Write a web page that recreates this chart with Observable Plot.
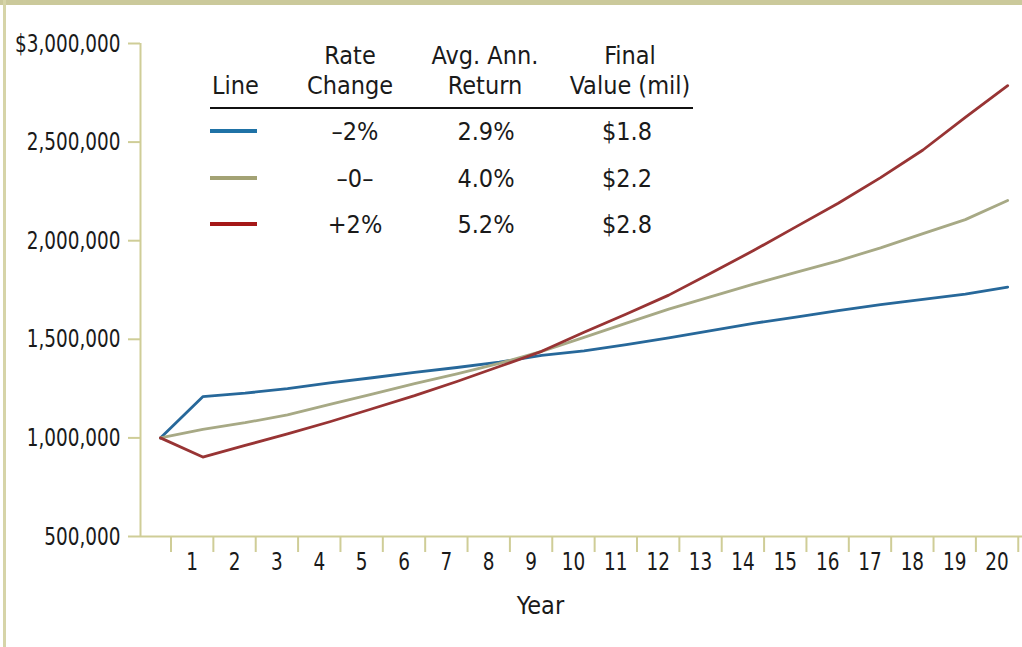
<!DOCTYPE html>
<html>
<head>
<meta charset="utf-8">
<script src="https://cdn.jsdelivr.net/npm/d3@7"></script>
<script src="https://cdn.jsdelivr.net/npm/@observablehq/plot@0.6"></script>
<style>
  html, body { margin: 0; padding: 0; background: #ffffff; }
  #wrap { position: relative; width: 1022px; height: 647px; overflow: hidden; background: #ffffff;
          font-family: "Liberation Sans Narrow", "Arial Narrow", "DejaVu Sans Condensed", sans-serif; color: #1a1a1a; }
  #topbar { position: absolute; left: 0; top: 0; width: 1022px; height: 5px; background: #cbc99b; }
  #leftbar { position: absolute; left: 3px; top: 0; width: 3px; height: 647px; background: #d6d4a8; }
  #chart { position: absolute; left: 0; top: 0; }
  .cell { position: absolute; font-size: 25px; line-height: 25px; white-space: nowrap; text-align: center; width: 160px; }
  .sw { position: absolute; height: 4px; width: 47px; left: 210px; }
  #rule { position: absolute; left: 210px; top: 107px; width: 483px; height: 2px; background: #111; }
</style>
</head>
<body>
<div id="wrap">
  <div id="chart"></div>
  <div id="topbar"></div>
  <div id="leftbar"></div>
  <div id="legend"></div>
</div>
<script>
// ---- data ----
const years = [0, 1, 2, 3, 4, 5, 6, 7, 8, 9, 10, 11, 12, 13, 14, 15, 16, 17, 18, 19, 20];
const seriesNames = ["-2%", "0", "+2%"];
const valuesMinus2 = [1000000, 1209000, 1227000, 1250000, 1279000, 1305000, 1332000, 1357000, 1384000, 1418000, 1441000,
                      1473000, 1507000, 1544000, 1581000, 1613000, 1646000, 1676000, 1702000, 1729000, 1765000];
const valuesZero   = [1000000, 1043000, 1077000, 1117000, 1170000, 1222000, 1275000, 1325000, 1378000, 1439000, 1510000,
                      1582000, 1653000, 1716000, 1780000, 1839000, 1898000, 1964000, 2036000, 2107000, 2204000];
const valuesPlus2  = [1000000, 903000, 962000, 1020000, 1082000, 1148000, 1214000, 1286000, 1362000, 1439000, 1536000,
                      1628000, 1724000, 1836000, 1950000, 2070000, 2190000, 2320000, 2460000, 2625000, 2786000];
const yTicks = [500000, 1000000, 1500000, 2000000, 2500000, 3000000];
const xLabels = [1, 2, 3, 4, 5, 6, 7, 8, 9, 10, 11, 12, 13, 14, 15, 16, 17, 18, 19, 20];
const xTitle = "Year";

// legend table
const legendHeader1 = ["", "Rate", "Avg. Ann.", "Final"];
const legendHeader2 = ["Line", "Change", "Return", "Value (mil)"];
const legendRate    = ["\u20132%", "\u20130\u2013", "+2%"];
const legendReturn  = ["2.9%", "4.0%", "5.2%"];
const legendFinal   = ["$1.8", "$2.2", "$2.8"];

// ---- styles ----
const lineColors   = ["#27689a", "#a7a985", "#983434"];
const swatchColors = ["#1f72a6", "#a3a274", "#a51818"];
const axisColor = "#cfcd97";
const textColor = "#1a1a1a";
const fontFamily = '"Liberation Sans Narrow", "Arial Narrow", "DejaVu Sans Condensed", sans-serif';
const xDomain = [-0.47, 20.35];
const yDomain = [500000, 3000000];
const axisTextSqueeze = 0.82;

const table = [];
[valuesMinus2, valuesZero, valuesPlus2].forEach((vals, i) => {
  vals.forEach((v, j) => table.push({series: seriesNames[i], year: years[j], value: v}));
});

const fmt = d3.format(",");
const chart = Plot.plot({
  width: 1022,
  height: 647,
  marginLeft: 140,
  marginRight: 0,
  marginTop: 43,
  marginBottom: 111,
  x: {domain: xDomain},
  y: {domain: yDomain},
  color: {domain: seriesNames, range: lineColors},
  style: {fontFamily, fontSize: "25px", color: textColor, background: "transparent", overflow: "visible"},
  marks: [
    Plot.ruleX([xDomain[0]], {stroke: axisColor, strokeWidth: 2}),
    Plot.ruleY([yDomain[0]], {stroke: axisColor, strokeWidth: 2}),
    Plot.axisY({ticks: yTicks, tickSize: 12, tickPadding: 8, strokeWidth: 2, stroke: axisColor, fill: textColor,
                tickFormat: d => (d === 3000000 ? "$" : "") + fmt(d), label: null, fontSize: 25}),
    Plot.axisX({ticks: years.map(y => y + 0.25), tickSize: 16, strokeWidth: 2, stroke: axisColor,
                tickFormat: () => "", label: null}),
    Plot.axisX({ticks: xLabels.map(y => y - 0.25), tickSize: 0, tickPadding: 16, fill: textColor,
                tickFormat: d => String(Math.round(d + 0.25)), label: null, fontSize: 25}),
    Plot.line(table, {x: "year", y: "value", z: "series", stroke: "series", strokeWidth: 2.8,
                      strokeLinejoin: "round", strokeLinecap: "round"}),
    Plot.text([xTitle], {frameAnchor: "bottom", dx: -41, dy: 77, fontSize: 25, fill: textColor})
  ]
});
document.getElementById("chart").appendChild(chart);

// condense the axis tick labels horizontally (the original uses a condensed face)
chart.querySelectorAll('g[aria-label="y-axis tick label"] text, g[aria-label="x-axis tick label"] text').forEach(t => {
  const tr = t.getAttribute("transform");
  if (tr) t.setAttribute("transform", tr + ` scale(${axisTextSqueeze},1)`);
  else {
    const x = +t.getAttribute("x") || 0;
    t.setAttribute("transform", `translate(${x},0) scale(${axisTextSqueeze},1) translate(${-x},0)`);
  }
});

// ---- legend table (HTML overlay) ----
const legend = document.getElementById("legend");
const colCenters = [233, 350, 485, 630];
function cell(text, cx, cy, align) {
  const d = document.createElement("div");
  d.className = "cell";
  d.textContent = text;
  if (align === "left") { d.style.left = cx + "px"; d.style.textAlign = "left"; }
  else d.style.left = (cx - 80) + "px";
  d.style.top = (cy - 12) + "px";
  legend.appendChild(d);
}
legendHeader1.forEach((t, i) => { if (t) cell(t, colCenters[i], 55); });
legendHeader2.forEach((t, i) => { if (i === 0) cell(t, 212, 85, "left"); else cell(t, colCenters[i], 85); });
const rule = document.createElement("div"); rule.id = "rule"; legend.appendChild(rule);
const rowY = [131, 178, 224];
rowY.forEach((cy, i) => {
  const s = document.createElement("div");
  s.className = "sw";
  s.style.top = (cy - 2) + "px";
  s.style.background = swatchColors[i];
  legend.appendChild(s);
  cell(legendRate[i], 355, cy);
  cell(legendReturn[i], 486, cy);
  cell(legendFinal[i], 627, cy);
});
</script>
</body>
</html>
